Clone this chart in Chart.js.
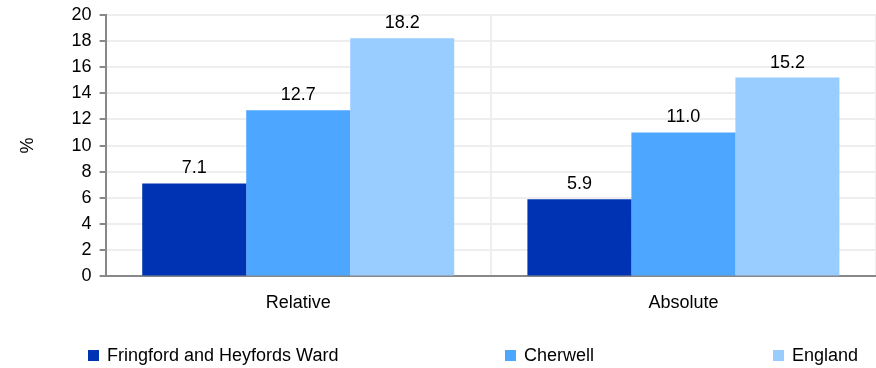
<!DOCTYPE html>
<html>
<head>
<meta charset="utf-8">
<script src="https://cdn.jsdelivr.net/npm/chart.js@4"></script>
<style>
  body { margin: 0; background: #fff; font-family: "Liberation Sans", Arial, sans-serif; }
  #wrap { position: relative; width: 876px; height: 368px; }
  #legend { position: absolute; left: 0; top: 345px; width: 876px; height: 22px; font-size: 18px; color: #000; }
  #legend .item { position: absolute; top: 0; white-space: nowrap; }
  #legend .box { display: inline-block; width: 11px; height: 11px; margin-right: 8px; vertical-align: 0px; }
</style>
</head>
<body>
<div id="wrap">
  <canvas id="chart" width="876" height="368"></canvas>
  <div id="legend"></div>
</div>
<script>
//-----------------------------------------------------------------------------
// Data
const categories = ['Relative', 'Absolute'];
const seriesNames = ['Fringford and Heyfords Ward', 'Cherwell', 'England'];
const seriesColors = ['#0033b3', '#4da6ff', '#99ccff'];
const wardValues = [7.1, 5.9];
const cherwellValues = [12.7, 11.0];
const englandValues = [18.2, 15.2];
const yTicks = [0, 2, 4, 6, 8, 10, 12, 14, 16, 18, 20];
const legendLeft = [88, 505, 773];

//-----------------------------------------------------------------------------
// Chart
const seriesValues = [wardValues, cherwellValues, englandValues];
const FONT = '"Liberation Sans", Arial, sans-serif';

const valueLabels = {
  id: 'valueLabels',
  afterDatasetsDraw(chart) {
    const ctx = chart.ctx;
    ctx.save();
    ctx.font = '18px ' + FONT;
    ctx.fillStyle = '#000';
    ctx.textAlign = 'center';
    ctx.textBaseline = 'bottom';
    chart.data.datasets.forEach(function(ds, i) {
      chart.getDatasetMeta(i).data.forEach(function(bar, j) {
        ctx.fillText(ds.data[j].toFixed(1), bar.x, bar.y - 6);
      });
    });
    ctx.restore();
  }
};

new Chart(document.getElementById('chart'), {
  type: 'bar',
  data: {
    labels: categories,
    datasets: seriesNames.map(function(name, i) {
      return {
        label: name,
        data: seriesValues[i],
        backgroundColor: seriesColors[i],
        categoryPercentage: 0.81,
        barPercentage: 1.0
      };
    })
  },
  options: {
    responsive: false,
    animation: false,
    layout: { padding: { top: 0, right: 0, bottom: 38, left: 17 } },
    plugins: {
      legend: { display: false },
      tooltip: { enabled: false }
    },
    scales: {
      x: {
        grid: { color: '#eeeeee', lineWidth: 2, drawTicks: false, offset: true },
        border: { color: '#888888', width: 2 },
        ticks: { color: '#000', font: { family: FONT, size: 18 }, padding: 16 }
      },
      y: {
        min: yTicks[0],
        max: yTicks[yTicks.length - 1],
        afterBuildTicks: function(axis) {
          axis.ticks = yTicks.map(function(v) { return { value: v }; });
        },
        grid: { color: '#eeeeee', lineWidth: 2, tickColor: '#888888', tickLength: 6 },
        border: { color: '#888888', width: 2 },
        ticks: { color: '#000', font: { family: FONT, size: 18, lineHeight: 0.75 }, padding: 8 },
        title: { display: true, text: '%', color: '#000', font: { family: FONT, size: 18 }, padding: { top: 0, bottom: 25 } }
      }
    }
  },
  plugins: [valueLabels]
});

//-----------------------------------------------------------------------------
// Legend
const legend = document.getElementById('legend');
seriesNames.forEach(function(name, i) {
  const item = document.createElement('div');
  item.className = 'item';
  item.style.left = legendLeft[i] + 'px';
  item.innerHTML = '<span class="box" style="background:' + seriesColors[i] + '"></span>' + name;
  legend.appendChild(item);
});
</script>
</body>
</html>
